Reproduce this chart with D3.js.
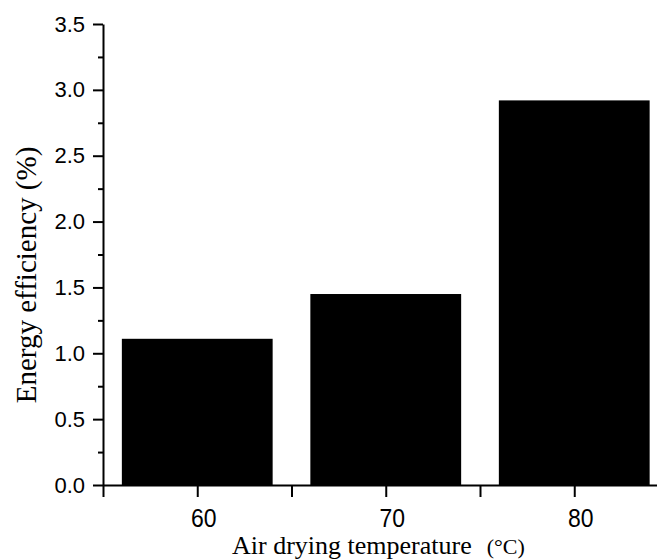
<!DOCTYPE html>
<html>
<head>
<meta charset="utf-8">
<script src="https://cdn.jsdelivr.net/npm/d3@7"></script>
<style>
  body { margin: 0; background: #fff; }
  svg { display: block; }
</style>
</head>
<body>
<svg width="657" height="560"></svg>
<script>
// chart values
const temps = [60, 70, 80];
const efficiency = [1.11, 1.45, 2.92];
const yMajorTicks = [0, 0.5, 1.0, 1.5, 2.0, 2.5, 3.0, 3.5];
const yMinorTicks = [0.25, 0.75, 1.25, 1.75, 2.25, 2.75, 3.25];
const xTicks = [55, 60, 65, 70, 75, 80, 85];
const xLabelled = [60, 70, 80];

const svg = d3.select("svg");

var x = d3.scaleLinear().domain([55, 85]).range([103, 668.5]);
var y = d3.scaleLinear().domain([0, 3.5]).range([485, 24]);
const barHalf = 4; // bar spans 8 degrees on the x scale

// bars
svg.append("g").selectAll("rect").data(temps).enter().append("rect")
    .attr("x", d => x(d - barHalf))
    .attr("width", d => x(d + barHalf) - x(d - barHalf))
    .attr("y", (d, i) => y(efficiency[i]))
    .attr("height", (d, i) => y(0) - y(efficiency[i]))
    .attr("fill", "#000");

// y axis
const yAxis = svg.append("g").attr("transform", "translate(103,0)")
    .call(d3.axisLeft(y).tickValues(yMajorTicks).tickSize(10).tickSizeOuter(0)
        .tickPadding(8).tickFormat(d3.format(".1f")));
svg.append("g").attr("transform", "translate(103,0)")
    .call(d3.axisLeft(y).tickValues(yMinorTicks).tickSize(5).tickSizeOuter(0).tickFormat(""))
    .select(".domain").remove();

// x axis
const xAxis = svg.append("g").attr("transform", "translate(0,485)")
    .call(d3.axisBottom(x).tickValues(xTicks).tickSize(12).tickSizeOuter(0)
        .tickFormat(d => xLabelled.includes(d) ? d : ""));
// labels look a bit taller than plain Arial in the original
const xStretch = 1.12;
xAxis.selectAll("text")
    .attr("y", 42 / xStretch).attr("dy", 0).attr("dx", 6)
    .attr("transform", `scale(1,${xStretch})`);

svg.selectAll(".domain, .tick line").attr("stroke", "#000").attr("stroke-width", 2);
svg.selectAll(".tick text")
    .attr("font-family", "'Liberation Sans', Arial, sans-serif")
    .attr("fill", "#000");
yAxis.selectAll("text").attr("font-size", 22);
xAxis.selectAll("text").attr("font-size", 23);

// axis titles
svg.append("text")
    .attr("transform", "translate(36,275) rotate(-90)")
    .attr("text-anchor", "middle")
    .attr("font-family", "'Liberation Serif', 'Times New Roman', serif")
    .attr("font-size", 29)
    .text("Energy efficiency (%)");

const xt = svg.append("text")
    .attr("x", 232).attr("y", 554)
    .attr("font-family", "'Liberation Serif', 'Times New Roman', serif")
    .attr("font-size", 26)
    .text("Air drying temperature");
xt.append("tspan").attr("dx", 15).attr("font-size", 22).text("(°C)");
</script>
</body>
</html>
